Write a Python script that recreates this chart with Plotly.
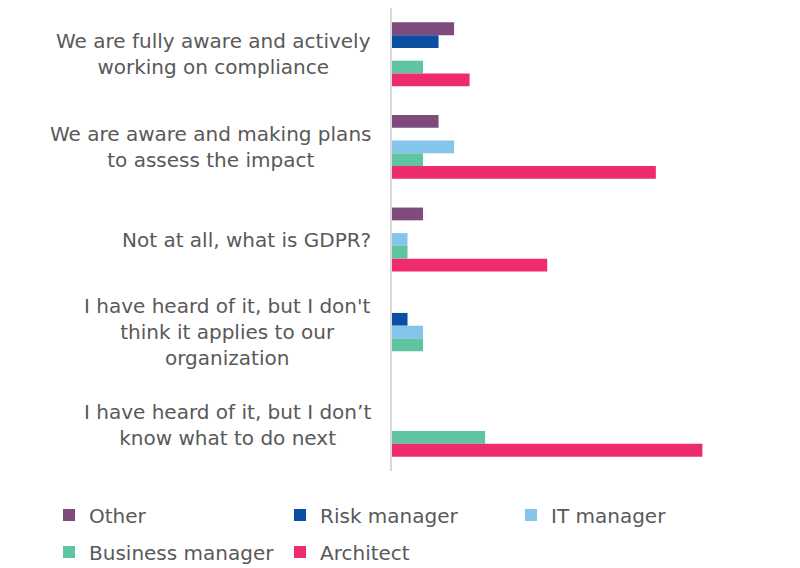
import plotly.graph_objects as go

categories = [
    "We are fully aware and actively<br>working on compliance",
    "We are aware and making plans<br>to assess the impact",
    "Not at all, what is GDPR?",
    "I have heard of it, but I don't<br>think it applies to our<br>organization",
    "I have heard of it, but I don’t<br>know what to do next",
]
series_names = ["Other", "Risk manager", "IT manager", "Business manager", "Architect"]
other = [4, 3, 2, 0, 0]
risk_manager = [3, 0, 0, 1, 0]
it_manager = [0, 4, 1, 2, 0]
business_manager = [2, 2, 1, 2, 6]
architect = [5, 17, 10, 0, 20]
colors = ["#7f4a7c", "#0b4ea2", "#85c4ec", "#5fc4a0", "#ee2b6c"]
legend_rows = ["legend", "legend", "legend", "legend2", "legend2"]

values = [other, risk_manager, it_manager, business_manager, architect]
cat_ids = list(range(len(categories)))
FONT = "DejaVu Sans"
TXT = "#595959"

fig = go.Figure()
for name, vals, col, lg in zip(series_names, values, colors, legend_rows):
    fig.add_trace(go.Bar(
        y=cat_ids, x=vals, name=name, orientation="h", legend=lg,
        marker=dict(color=col, line=dict(width=0)),
    ))

for i, lab in enumerate(categories):
    fig.add_annotation(
        x=0, xref="paper", y=i, yref="y", xanchor="right", yanchor="middle",
        xshift=-19, text=lab, showarrow=False, align="center",
        font=dict(family=FONT, size=20, color=TXT),
    )

legend_common = dict(orientation="h", xref="paper", yref="paper",
                     xanchor="left", yanchor="middle",
                     entrywidth=186, entrywidthmode="pixels",
                     font=dict(family=FONT, size=20, color=TXT),
                     itemclick=False, traceorder="normal",
                     bgcolor="rgba(0,0,0,0)")

fig.update_layout(
    width=800, height=568,
    margin=dict(l=384, r=28, t=0, b=105, autoexpand=False),
    paper_bgcolor="white", plot_bgcolor="white",
    barmode="group", bargap=0.31, bargroupgap=0,
    font=dict(family=FONT, size=20, color=TXT),
    xaxis=dict(range=[0, 25], showgrid=False, showticklabels=False,
               zeroline=False, showline=False, ticks=""),
    yaxis=dict(autorange="reversed", showticklabels=False, showgrid=False,
               zeroline=False, showline=True, linecolor="#d9d9d9", linewidth=1.5,
               ticks=""),
    showlegend=True,
    legend=dict(legend_common, x=-0.884, y=-0.095),
    legend2=dict(legend_common, x=-0.884, y=-0.175),
)

fig.write_html("out.html")
